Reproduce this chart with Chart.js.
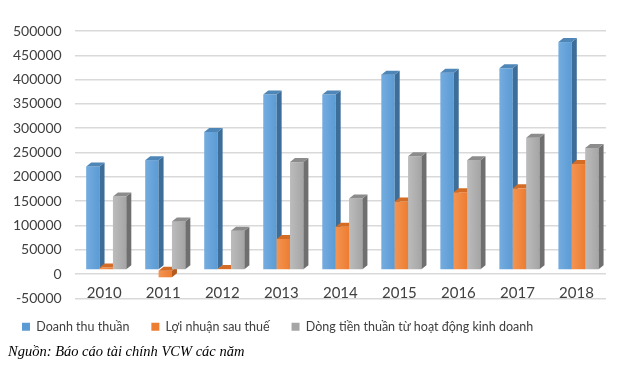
<!DOCTYPE html>
<html>
<head>
<meta charset="utf-8">
<script src="https://cdn.jsdelivr.net/npm/chart.js@4.4.1/dist/chart.umd.min.js"></script>
<style>
  body { margin: 0; background: #fff; }
  #wrap { position: relative; width: 640px; height: 366px; }
  #source { position: absolute; left: 8px; top: 343px; font: italic 14.5px "Liberation Serif", serif; color: #000; }
</style>
</head>
<body>
<div id="wrap">
  <canvas id="chart"></canvas>
  <div id="source">Nguồn: Báo cáo tài chính VCW các năm</div>
</div>
<script>
var years = ['2010', '2011', '2012', '2013', '2014', '2015', '2016', '2017', '2018'];
var seriesNames = ['Doanh thu thuần', 'Lợi nhuận sau thuế', 'Dòng tiền thuần từ hoạt động kinh doanh'];
var doanhThu = [213000, 226000, 284000, 361000, 361000, 402000, 406000, 415000, 469000];
var loiNhuan = [5000, -15000, 2000, 64000, 89000, 141000, 160000, 168000, 218000];
var dongTien = [151000, 100000, 81000, 222000, 147000, 234000, 226000, 272000, 251000];
var yRange = [-50000, 500000];
var yStep = 50000;

// fake 3D columns: front, side and top drawn category by category
// so the next bar of the group covers the side of the one before
var bars3d = {
	id: 'bars3d',
	beforeDatasetsDraw: function(chart) {
		var ctx = chart.ctx;
		var depth = 5, rise = 4, shiftX = 2, shiftY = -4;
		var metas = chart.data.datasets.map(function(ds, i) { return chart.getDatasetMeta(i); });
		ctx.save();
		for (var c = 0; c < chart.data.labels.length; c++) {
			metas.forEach(function(meta, i) {
				var ds = chart.data.datasets[i];
				var p = meta.data[c].getProps(['x', 'y', 'base', 'width'], true);
				var left = p.x - p.width / 2 + shiftX, right = p.x + p.width / 2 + shiftX;
				var top = Math.min(p.y, p.base) + shiftY, bottom = Math.max(p.y, p.base) + shiftY;

				var grad = ctx.createLinearGradient(left, 0, right, 0);
				grad.addColorStop(0, ds.lightColor);
				grad.addColorStop(1, ds.backgroundColor);
				ctx.fillStyle = grad;
				ctx.fillRect(left, top, right - left, bottom - top);

				ctx.fillStyle = ds.sideColor;
				ctx.beginPath();
				ctx.moveTo(right, top);
				ctx.lineTo(right + depth, top - rise);
				ctx.lineTo(right + depth, bottom - rise);
				ctx.lineTo(right, bottom);
				ctx.closePath();
				ctx.fill();

				ctx.fillStyle = ds.topColor;
				ctx.beginPath();
				ctx.moveTo(left, top);
				ctx.lineTo(left + depth, top - rise);
				ctx.lineTo(right + depth, top - rise);
				ctx.lineTo(right, top);
				ctx.closePath();
				ctx.fill();
			});
		}
		ctx.restore();
		return false;
	}
};

new Chart(document.getElementById('chart'), {
	type: 'bar',
	data: {
		labels: years,
		datasets: [{
			label: seriesNames[0],
			data: doanhThu,
			backgroundColor: '#5b9bd5',
			lightColor: '#74acdf',
			sideColor: '#3d6d99',
			topColor: '#4f86b8'
		}, {
			label: seriesNames[1],
			data: loiNhuan,
			backgroundColor: '#ed7d31',
			lightColor: '#f39452',
			sideColor: '#b45a1e',
			topColor: '#d46c25'
		}, {
			label: seriesNames[2],
			data: dongTien,
			backgroundColor: '#a5a5a5',
			lightColor: '#bcbcbc',
			sideColor: '#6f6f6f',
			topColor: '#8c8c8c'
		}]
	},
	options: {
		responsive: true,
		maintainAspectRatio: false,
		animation: false,
		layout: { padding: { left: 0, right: 34, top: 31, bottom: 15 } },
		categoryPercentage: 0.68,
		barPercentage: 1.0,
		scales: {
			x: {
				grid: { display: false, drawTicks: false },
				border: { display: false },
				ticks: { color: '#404040', font: { family: 'Lato', size: 15 }, mirror: true, padding: -4 }
			},
			y: {
				min: yRange[0],
				max: yRange[1],
				grid: { color: '#d9d9d9', lineWidth: 1.5, drawTicks: false },
				border: { display: false },
				ticks: {
					stepSize: yStep,
					color: '#404040',
					font: { family: 'Lato', size: 14 },
					padding: 13,
					callback: function(v) { return String(v); }
				}
			}
		},
		plugins: {
			tooltip: { enabled: false },
			legend: {
				position: 'bottom',
				align: 'start',
				// empty title only pushes the legend row down a bit
				title: { display: true, text: '', font: { size: 1 }, padding: { top: 0, bottom: 7 } },
				labels: {
					boxWidth: 8,
					boxHeight: 8,
					padding: 22,
					color: '#404040',
					font: { family: 'Lato', size: 12.5 }
				}
			}
		}
	},
	plugins: [bars3d]
});
</script>
</body>
</html>
